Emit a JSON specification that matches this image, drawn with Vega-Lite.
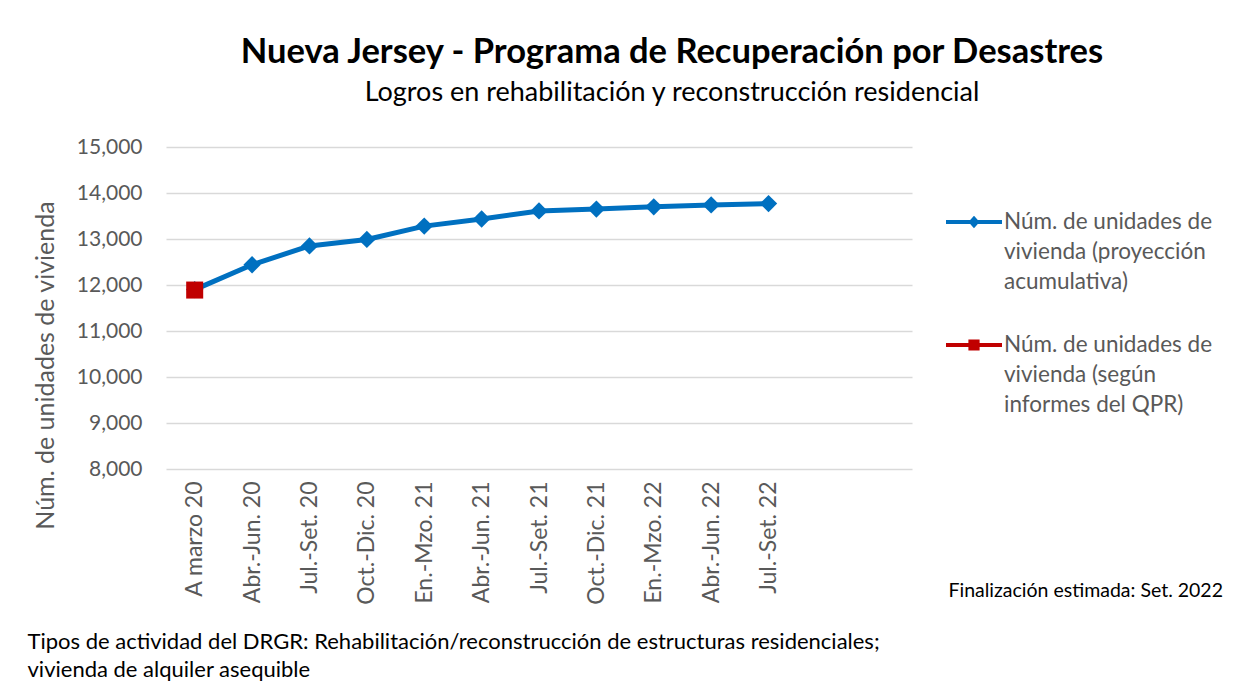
{
  "$schema": "https://vega.github.io/schema/vega-lite/v6.json",
  "autosize": "none",
  "width": 746,
  "height": 322,
  "padding": {"left": 166, "top": 147, "right": 340, "bottom": 214},
  "background": "white",
  "config": {
    "font": "Lato",
    "view": {"stroke": null},
    "axis": {"labelFont": "Lato", "titleFont": "Lato"},
    "legend": {"labelFont": "Lato"}
  },
  "title": {
    "text": "Nueva Jersey - Programa de Recuperación por Desastres",
    "subtitle": "Logros en rehabilitación y reconstrucción residencial",
    "anchor": "middle",
    "dx": 133,
    "offset": 29,
    "fontSize": 34.5,
    "fontWeight": "bold",
    "color": "#000000",
    "subtitleFontSize": 27,
    "subtitleColor": "#000000",
    "subtitlePadding": 10,
    "font": "Lato",
    "subtitleFont": "Lato"
  },
  "data": {
    "values": [
      {"periodo": "A marzo 20", "serie": "proy", "valor": 11900},
      {"periodo": "Abr.-Jun. 20", "serie": "proy", "valor": 12440},
      {"periodo": "Jul.-Set. 20", "serie": "proy", "valor": 12850},
      {"periodo": "Oct.-Dic. 20", "serie": "proy", "valor": 12990},
      {"periodo": "En.-Mzo. 21", "serie": "proy", "valor": 13280},
      {"periodo": "Abr.-Jun. 21", "serie": "proy", "valor": 13435},
      {"periodo": "Jul.-Set. 21", "serie": "proy", "valor": 13610},
      {"periodo": "Oct.-Dic. 21", "serie": "proy", "valor": 13650},
      {"periodo": "En.-Mzo. 22", "serie": "proy", "valor": 13700},
      {"periodo": "Abr.-Jun. 22", "serie": "proy", "valor": 13740},
      {"periodo": "Jul.-Set. 22", "serie": "proy", "valor": 13770},
      {"periodo": "A marzo 20", "serie": "qpr", "valor": 11890}
    ]
  },
  "resolve": {"axis": {"y": "independent"}},
  "encoding": {
    "x": {
      "field": "periodo",
      "type": "nominal",
      "sort": null,
      "scale": {
        "type": "point",
        "padding": 0.5,
        "domain": ["A marzo 20", "Abr.-Jun. 20", "Jul.-Set. 20", "Oct.-Dic. 20", "En.-Mzo. 21", "Abr.-Jun. 21", "Jul.-Set. 21", "Oct.-Dic. 21", "En.-Mzo. 22", "Abr.-Jun. 22", "Jul.-Set. 22", " ", "  "]
      },
      "axis": {
        "labelAngle": -90,
        "labelAlign": "right",
        "labelBaseline": "middle",
        "labelFontSize": 23,
        "labelColor": "#595959",
        "labelPadding": 12,
        "ticks": false,
        "domain": false,
        "grid": false,
        "title": ["Tipos de actividad del DRGR: Rehabilitación/reconstrucción de estructuras residenciales;", "vivienda de alquiler asequible"],
        "titleFontSize": 22,
        "titleFontWeight": "normal",
        "titleColor": "#000000",
        "titleAlign": "left",
        "titleAnchor": "start",
        "titleBaseline": "top",
        "titleLineHeight": 28,
        "titleX": -139,
        "titleY": 162
      }
    },
    "y": {
      "field": "valor",
      "type": "quantitative",
      "scale": {"domain": [8000, 15000], "nice": false, "zero": false}
    }
  },
  "layer": [
    {
      "mark": {"type": "line", "strokeWidth": 5, "strokeCap": "round", "strokeJoin": "round"},
      "transform": [{"filter": "datum.serie == 'proy'"}],
      "encoding": {
        "color": {
          "field": "serie",
          "type": "nominal",
          "scale": {"domain": ["proy", "qpr"], "range": ["#0070C0", "#C00000"]}
        },
        "y": {
          "field": "valor",
          "type": "quantitative",
          "axis": {
            "title": "Núm. de unidades de vivienda",
            "titleFontSize": 25,
            "titleFontWeight": "normal",
            "titleColor": "#595959",
            "titleX": -121,
            "titleY": 218,
            "titleAnchor": "middle",
            "titleBaseline": "middle",
            "labelFontSize": 21,
            "labelColor": "#595959",
            "labelPadding": 24,
            "format": ",d",
            "values": [8000, 9000, 10000, 11000, 12000, 13000, 14000, 15000],
            "ticks": false,
            "domain": false,
            "grid": true,
            "gridColor": "#d9d9d9",
            "gridWidth": 1.5
          }
        }
      }
    },
    {
      "mark": {"type": "point", "shape": "diamond", "filled": true, "size": 300, "opacity": 1},
      "transform": [{"filter": "datum.serie == 'proy'"}],
      "encoding": {
        "color": {"field": "serie", "type": "nominal"},
        "y": {
          "field": "valor",
          "type": "quantitative",
          "axis": {
            "orient": "right",
            "title": "Finalización estimada: Set. 2022",
            "titleAngle": 0,
            "titleFontSize": 19.5,
            "titleFontWeight": "normal",
            "titleColor": "#000000",
            "titleAlign": "left",
            "titleAnchor": "start",
            "titleBaseline": "middle",
            "titleX": 36,
            "titleY": 443,
            "labels": false,
            "ticks": false,
            "domain": false,
            "grid": false
          }
        }
      }
    },
    {
      "mark": {"type": "point", "shape": "square", "filled": true, "size": 290, "opacity": 1},
      "transform": [{"filter": "datum.serie == 'qpr'"}],
      "encoding": {
        "color": {"field": "serie", "type": "nominal"},
        "y": {"field": "valor", "type": "quantitative", "axis": null}
      }
    },
    {
      "mark": {"type": "point", "filled": true, "opacity": 1},
      "transform": [{"filter": "datum.valor < 0"}],
      "encoding": {
        "y": {"field": "valor", "type": "quantitative", "axis": null},
        "color": {
          "field": "serie",
          "type": "nominal",
          "legend": {
            "orient": "none",
            "legendX": 780,
            "legendY": 47,
            "title": null,
            "symbolSize": 3136,
            "symbolStrokeWidth": 0,
            "symbolOpacity": 1,
            "labelFontSize": 22.5,
            "labelColor": "#595959",
            "labelOffset": 2,
            "labelLimit": 300,
            "labelBaseline": "middle",
            "rowPadding": 23,
            "encode": {"labels": {"update": {"lineHeight": {"value": 30}}}},
            "labelExpr": "datum.value == 'proy' ? ['Núm. de unidades de', 'vivienda (proyección', 'acumulativa)'] : ['Núm. de unidades de', 'vivienda (según', 'informes del QPR)']"
          }
        },
        "shape": {
          "field": "serie",
          "type": "nominal",
          "scale": {
            "domain": ["proy", "qpr"],
            "range": [
              "M-1,-0.07L1,-0.07L1,0.07L-1,0.07Z M0,-0.22L0.2,0L0,0.22L-0.2,0Z",
              "M-1,-0.07L1,-0.07L1,0.07L-1,0.07Z M-0.2,-0.2L0.2,-0.2L0.2,0.2L-0.2,0.2Z"
            ]
          },
          "legend": {
            "orient": "none",
            "legendX": 780,
            "legendY": 47,
            "title": null,
            "symbolSize": 3136,
            "symbolStrokeWidth": 0,
            "symbolOpacity": 1,
            "labelFontSize": 22.5,
            "labelColor": "#595959",
            "labelOffset": 2,
            "labelLimit": 300,
            "labelBaseline": "middle",
            "rowPadding": 23,
            "encode": {"labels": {"update": {"lineHeight": {"value": 30}}}},
            "labelExpr": "datum.value == 'proy' ? ['Núm. de unidades de', 'vivienda (proyección', 'acumulativa)'] : ['Núm. de unidades de', 'vivienda (según', 'informes del QPR)']"
          }
        }
      }
    }
  ]
}
